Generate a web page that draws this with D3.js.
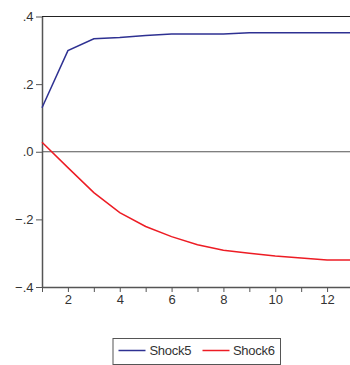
<!DOCTYPE html>
<html>
<head>
<meta charset="utf-8">
<script src="https://cdn.jsdelivr.net/npm/d3@7"></script>
<style>
  body { margin: 0; background: #fff; }
  svg { display: block; font-family: "Liberation Sans", Arial, sans-serif; }
</style>
</head>
<body>
<div id="chart"></div>
<script>
// --- data ---
const periods = [1, 2, 3, 4, 5, 6, 7, 8, 9, 10, 11, 12, 13];
const shock5 = [0.130, 0.299, 0.334, 0.338, 0.344, 0.348, 0.348, 0.348, 0.352, 0.352, 0.352, 0.352, 0.352];
const shock6 = [0.028, -0.047, -0.121, -0.180, -0.221, -0.251, -0.275, -0.291, -0.300, -0.308, -0.314, -0.320, -0.320];
const yTicks = [-0.4, -0.2, 0, 0.2, 0.4];
const xLabels = [2, 4, 6, 8, 10, 12];
const seriesNames = ["Shock5", "Shock6"];
const seriesColors = ["#2e3192", "#ed1c24"];

const W = 350, H = 365;
const margin = { top: 16.5, right: -3, bottom: 78, left: 42 };

const svg = d3.select("#chart").append("svg")
  .attr("width", W).attr("height", H);

const x = d3.scaleLinear().domain([1, 13]).range([margin.left, W - margin.right]);
const y = d3.scaleLinear().domain([-0.4, 0.4]).range([H - margin.bottom, margin.top]);

const fmt = (v) => {
  const s = d3.format(".1f")(v);
  return s.replace("0.", ".");
};

// zero line
svg.append("line")
  .attr("x1", x(1)).attr("x2", W)
  .attr("y1", y(0)).attr("y2", y(0))
  .attr("stroke", "#555").attr("stroke-width", 1);

// top frame
svg.append("line")
  .attr("x1", x(1)).attr("x2", W)
  .attr("y1", y(0.4)).attr("y2", y(0.4))
  .attr("stroke", "#222").attr("stroke-width", 1);

// y axis
const yAxis = svg.append("g")
  .attr("transform", `translate(${x(1)},0)`)
  .call(d3.axisLeft(y).tickValues(yTicks).tickFormat(fmt).tickSize(6).tickSizeOuter(0));
yAxis.select(".domain").attr("stroke", "#555").attr("stroke-width", 1.5);
yAxis.selectAll(".tick line").attr("stroke", "#555");
yAxis.selectAll("text").attr("fill", "#333").attr("font-size", 13).attr("x", -8.5)
  .attr("font-family", "Liberation Sans, Arial, sans-serif");

// x axis
const xAxis = svg.append("g")
  .attr("transform", `translate(0,${y(-0.4)})`)
  .call(d3.axisBottom(x).tickValues(periods).tickFormat((d) => xLabels.includes(d) ? d : "").tickSize(5).tickSizeOuter(0));
xAxis.select(".domain").attr("stroke", "#555").attr("stroke-width", 1.5);
xAxis.selectAll(".tick line").attr("stroke", "#555");
xAxis.selectAll("text").attr("fill", "#333").attr("font-size", 13).attr("y", 8)
  .attr("font-family", "Liberation Sans, Arial, sans-serif");

// lines
const line = d3.line().x((d, i) => x(periods[i])).y((d) => y(d));
[shock5, shock6].forEach((vals, i) => {
  svg.append("path")
    .datum(vals)
    .attr("fill", "none")
    .attr("stroke", seriesColors[i])
    .attr("stroke-width", 1.5)
    .attr("d", line);
});

// legend
const legend = svg.append("g").attr("transform", "translate(113,338.5)");
legend.append("rect")
  .attr("width", 167.5).attr("height", 26)
  .attr("fill", "#fff").attr("stroke", "#555").attr("stroke-width", 1);
const items = [
  { x: 5.5, tx: 36.5 },
  { x: 89.5, tx: 120 }
];
seriesNames.forEach((name, i) => {
  legend.append("line")
    .attr("x1", items[i].x).attr("x2", items[i].x + 27)
    .attr("y1", 12).attr("y2", 12)
    .attr("stroke", seriesColors[i]).attr("stroke-width", 1.5);
  legend.append("text")
    .attr("x", items[i].tx).attr("y", 16.5)
    .attr("font-size", 13).attr("fill", "#333")
    .attr("letter-spacing", -0.3)
    .text(name);
});
</script>
</body>
</html>
